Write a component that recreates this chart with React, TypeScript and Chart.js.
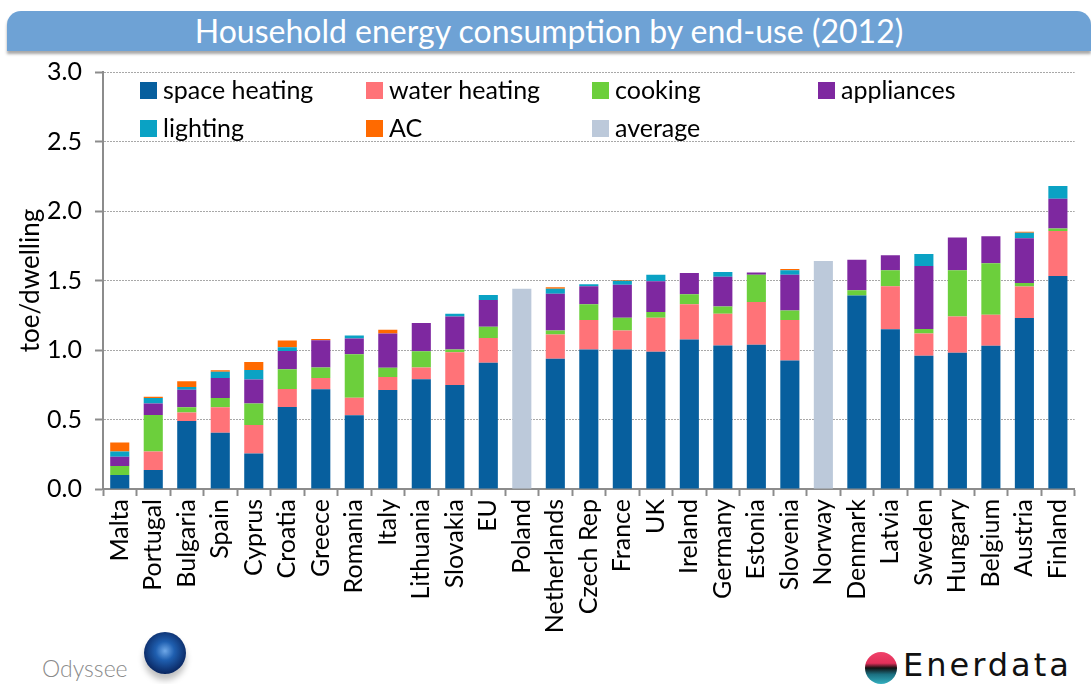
import React, { useEffect, useRef } from "react";
import { Chart, registerables } from "chart.js";

Chart.register(...registerables);

const categories = [
  "Malta", "Portugal", "Bulgaria", "Spain", "Cyprus", "Croatia", "Greece", "Romania", "Italy",
  "Lithuania", "Slovakia", "EU", "Poland", "Netherlands", "Czech Rep", "France", "UK", "Ireland",
  "Germany", "Estonia", "Slovenia", "Norway", "Denmark", "Latvia", "Sweden", "Hungary", "Belgium",
  "Austria", "Finland",
];

const spaceHeating = [0.10, 0.137, 0.49, 0.404, 0.256, 0.59, 0.718, 0.53, 0.713, 0.789, 0.749, 0.908, 0, 0.937, 1.004, 1.004, 0.987, 1.075, 1.032, 1.037, 0.925, 0, 1.392, 1.149, 0.959, 0.98, 1.03, 1.23, 1.532];
const waterHeating = [0, 0.133, 0.06, 0.185, 0.205, 0.129, 0.081, 0.126, 0.093, 0.086, 0.235, 0.179, 0, 0.174, 0.212, 0.137, 0.245, 0.255, 0.229, 0.309, 0.291, 0, 0, 0.31, 0.159, 0.261, 0.224, 0.226, 0.324];
const cooking = [0.066, 0.262, 0.038, 0.065, 0.155, 0.143, 0.076, 0.314, 0.067, 0.116, 0.02, 0.081, 0, 0.03, 0.114, 0.091, 0.041, 0.071, 0.052, 0.195, 0.068, 0, 0.038, 0.114, 0.033, 0.332, 0.371, 0.026, 0.019];
const appliances = [0.066, 0.084, 0.126, 0.145, 0.171, 0.13, 0.195, 0.112, 0.245, 0.203, 0.237, 0.191, 0, 0.263, 0.129, 0.238, 0.221, 0.153, 0.214, 0.017, 0.257, 0, 0.219, 0.109, 0.453, 0.236, 0.193, 0.322, 0.214];
const lighting = [0.038, 0.038, 0.019, 0.045, 0.069, 0.027, 0, 0.022, 0, 0, 0.02, 0.037, 0, 0.037, 0.014, 0.029, 0.047, 0, 0.034, 0, 0.032, 0, 0, 0, 0.087, 0, 0, 0.04, 0.091];
const ac = [0.064, 0.009, 0.043, 0.01, 0.057, 0.05, 0.01, 0, 0.028, 0, 0, 0, 0, 0.01, 0, 0.005, 0, 0, 0, 0, 0.009, 0, 0, 0, 0, 0, 0, 0.007, 0];
const average = [0, 0, 0, 0, 0, 0, 0, 0, 0, 0, 0, 0, 1.44, 0, 0, 0, 0, 0, 0, 0, 0, 1.64, 0, 0, 0, 0, 0, 0, 0];

const yTicks = [0, 0.5, 1.0, 1.5, 2.0, 2.5, 3.0];

const FONT = "Lato";

export default function App() {
  const ref = useRef<HTMLCanvasElement>(null);

  useEffect(() => {
    if (!ref.current) return;
    const series = [
      { label: "space heating", data: spaceHeating, color: "#075f9e" },
      { label: "water heating", data: waterHeating, color: "#ff7378" },
      { label: "cooking", data: cooking, color: "#6ccf3c" },
      { label: "appliances", data: appliances, color: "#7e28a0" },
      { label: "lighting", data: lighting, color: "#0aa2c4" },
      { label: "AC", data: ac, color: "#ff6a00" },
      { label: "average", data: average, color: "#bcc9da" },
    ];

    const legendPlugin = {
      id: "gridLegend",
      afterDraw(chart: any) {
        const { ctx, chartArea } = chart;
        const cols = [37, 263, 489, 715];
        const rows = [18, 56];
        ctx.save();
        ctx.font = `25px ${FONT}`;
        ctx.textBaseline = "middle";
        ctx.textAlign = "left";
        series.forEach((s, i) => {
          const x = chartArea.left + cols[i % 4];
          const y = chartArea.top + rows[Math.floor(i / 4)];
          ctx.fillStyle = s.color;
          ctx.fillRect(x, y - 8, 17, 17);
          ctx.fillStyle = "#000";
          ctx.fillText(s.label, x + 23, y + 1);
        });
        ctx.restore();
      },
    };

    const chart = new Chart(ref.current, {
      type: "bar",
      data: {
        labels: categories,
        datasets: series.map((s) => ({
          label: s.label,
          data: s.data,
          backgroundColor: s.color,
          borderWidth: 0,
          barPercentage: 0.57,
          categoryPercentage: 1,
        })),
      },
      options: {
        animation: false,
        responsive: true,
        maintainAspectRatio: false,
        layout: { padding: { top: 5, right: 6, left: 0, bottom: 0 } },
        plugins: {
          legend: { display: false },
          tooltip: { enabled: false },
          title: { display: false },
        },
        scales: {
          x: {
            stacked: true,
            grid: {
              offset: true,
              drawOnChartArea: false,
              drawTicks: true,
              tickLength: 7,
              tickColor: "#8c8c8c",
              tickWidth: 2,
            },
            border: { color: "#8c8c8c", width: 2 },
            ticks: {
              autoSkip: false,
              maxRotation: 90,
              minRotation: 90,
              color: "#000",
              padding: 3,
              font: { family: FONT, size: 25 },
            },
            afterFit: (s: any) => {
              s.height = 156;
            },
          },
          y: {
            stacked: true,
            min: 0,
            max: 3,
            afterBuildTicks: (s: any) => {
              s.ticks = yTicks.map((v) => ({ value: v }));
            },
            ticks: {
              color: "#000",
              padding: 13,
              font: { family: FONT, size: 25 },
              callback: (v: any) => Number(v).toFixed(1),
            },
            grid: {
              color: "#a8a8a8",
              lineWidth: 1,
              drawTicks: true,
              tickLength: 8,
              tickColor: "#8c8c8c",
              tickWidth: 2,
              tickBorderDash: [8, 0],
            },
            border: { color: "#8c8c8c", width: 2, dash: [2, 1] },
            title: {
              display: true,
              text: "toe/dwelling",
              color: "#000",
              font: { family: FONT, size: 26 },
              padding: { top: 15, bottom: 0 },
            },
            afterFit: (s: any) => {
              s.width = 103;
            },
          },
        },
      },
      plugins: [legendPlugin],
    });
    return () => chart.destroy();
  }, []);

  return (
    <div
      style={{
        position: "fixed",
        left: 0,
        top: 0,
        width: 1091,
        height: 684,
        background: "#fff",
        overflow: "hidden",
      }}
    >
      <div
        style={{
          position: "absolute",
          left: 7,
          top: 11,
          width: 1084,
          height: 40,
          background: "#6ea2d5",
          borderRadius: "14px 14px 0 0",
          boxShadow: "0 3px 3px rgba(0,0,0,0.35)",
          color: "#fff",
          fontFamily: FONT,
          fontSize: 32,
          lineHeight: "40px",
          textAlign: "center",
        }}
      >
        Household energy consumption by end-use (2012)
      </div>
      <div style={{ position: "absolute", left: 0, top: 44, width: 1091, height: 601 }}>
        <canvas ref={ref} />
      </div>
      <div
        style={{
          position: "absolute",
          left: 42,
          top: 654,
          fontFamily: FONT,
          fontWeight: 300,
          fontSize: 23,
          color: "#8a8a8a",
        }}
      >
        Odyssee
      </div>
      <div
        style={{
          position: "absolute",
          left: 144,
          top: 632,
          width: 42,
          height: 42,
          borderRadius: "50%",
          background: "radial-gradient(circle at 50% 45%, #6fa8e8 0%, #1f5fb0 30%, #0b2a66 70%, #0a1d40 100%)",
          boxShadow: "0 6px 6px rgba(0,0,0,0.25)",
        }}
      />
      <div
        style={{
          position: "absolute",
          left: 865,
          top: 652,
          width: 32,
          height: 32,
          borderRadius: "50%",
          background: "linear-gradient(180deg, #f0426a 0%, #e2305a 35%, #111 50%, #1b6f80 70%, #33b0c0 100%)",
        }}
      />
      <div
        style={{
          position: "absolute",
          left: 903,
          top: 646,
          fontFamily: "DejaVu Sans",
          fontSize: 32,
          letterSpacing: 3,
          color: "#111",
          lineHeight: "38px",
        }}
      >
        Enerdata
      </div>
    </div>
  );
}
